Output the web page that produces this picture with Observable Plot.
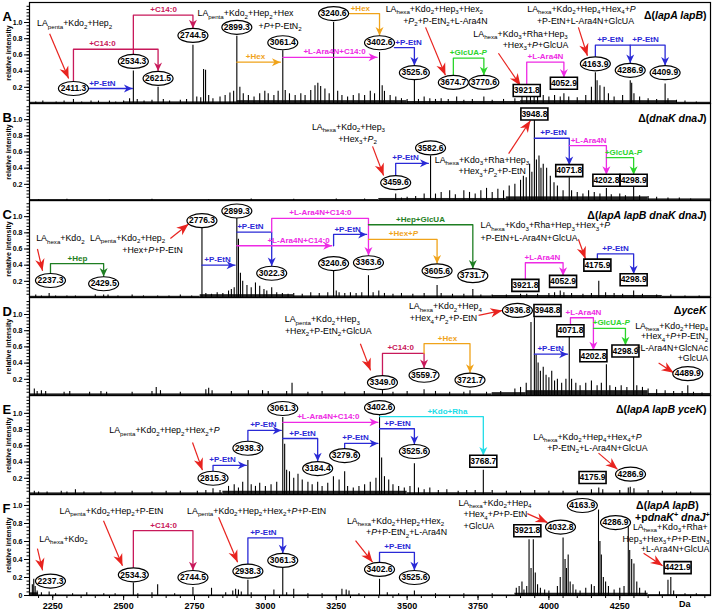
<!DOCTYPE html>
<html><head><meta charset="utf-8">
<script src="https://cdn.jsdelivr.net/npm/d3@7"></script>
<script src="https://cdn.jsdelivr.net/npm/@observablehq/plot@0.6"></script>
<style>
body{margin:0;background:#fff;font-family:"Liberation Sans",Arial,sans-serif;}
#chart{width:713px;}
#chart svg{display:block;overflow:visible;}
</style></head><body><div id="chart"></div>
<script>
// ---------- scales / ticks ----------
const massDomain = [2168, 4570];
const massTicks = [2250, 2500, 2750, 3000, 3250, 3500, 3750, 4000, 4250];
const intensityTicks = [0.2, 0.4, 0.6, 0.8, 1.0];
const intensityTicksF = [0, 0.2, 0.4, 0.6, 0.8, 1.0];
const panelLetters = ["A", "B", "C", "D", "E", "F"];

// ---------- spectra: [m/z, relative intensity] ----------
const peaksA = [[2190,0.02],[2215,0.03],[2262,0.02],[2290,0.03],[2323,0.05],[2352,0.02],[2385,0.03],[2411.3,0.03],[2450,0.03],[2472,0.02],[2500,0.03],[2521,0.06],[2534.3,0.40],[2548,0.05],[2572,0.03],[2600,0.04],[2621.5,0.20],[2640,0.05],[2662,0.03],[2700,0.04],[2722,0.05],[2744.5,0.72],[2758,0.08],[2772,0.07],[2782,0.42],[2789,0.41],[2800,0.10],[2815,0.06],[2840,0.08],[2858,0.10],[2875,0.13],[2888,0.15],[2899.3,0.83],[2910,0.20],[2922,0.12],[2940,0.10],[2960,0.08],[2980,0.12],[2998,0.15],[3010,0.12],[3030,0.10],[3045,0.15],[3061.4,0.65],[3070,0.16],[3085,0.12],[3105,0.10],[3125,0.12],[3140,0.10],[3160,0.16],[3175,0.22],[3185,0.25],[3195,0.21],[3210,0.18],[3225,0.12],[3240.6,1.0],[3255,0.15],[3270,0.10],[3290,0.08],[3310,0.10],[3330,0.12],[3350,0.10],[3370,0.15],[3385,0.12],[3402.6,0.63],[3412,0.22],[3420,0.15],[3440,0.10],[3460,0.08],[3480,0.06],[3500,0.05],[3525.6,0.30],[3540,0.05],[3560,0.08],[3580,0.06],[3600,0.05],[3620,0.06],[3645,0.05],[3674.7,0.08],[3700,0.04],[3730,0.05],[3770.6,0.08],[3800,0.04],[3840,0.05],[3880,0.06],[3905,0.10],[3921.8,0.14],[3935,0.18],[3948,0.20],[3960,0.12],[3980,0.10],[4000,0.08],[4020,0.10],[4040,0.08],[4052.9,0.12],[4070,0.08],[4100,0.07],[4130,0.10],[4150,0.20],[4163.9,0.38],[4170,0.28],[4180,0.22],[4195,0.20],[4210,0.12],[4230,0.08],[4260,0.10],[4286.9,0.28],[4292,0.25],[4300,0.12],[4320,0.08],[4350,0.06],[4380,0.05],[4409.9,0.24],[4420,0.06],[4450,0.04],[4480,0.03],[4520,0.02]];
const peaksB = [[2200,0.01],[2300,0.015],[2450,0.01],[2600,0.015],[2800,0.01],[2950,0.02],[3100,0.015],[3250,0.02],[3350,0.02],[3459.6,0.08],[3480,0.03],[3500,0.04],[3530,0.05],[3560,0.08],[3582.6,0.55],[3600,0.08],[3620,0.10],[3650,0.12],[3670,0.07],[3700,0.12],[3720,0.10],[3740,0.08],[3760,0.12],[3780,0.15],[3800,0.10],[3820,0.14],[3840,0.12],[3860,0.18],[3880,0.20],[3900,0.25],[3910,0.30],[3920,0.28],[3932,0.45],[3940,0.35],[3948.8,1.0],[3956,0.50],[3965,0.55],[3972,0.40],[3980,0.45],[3992,0.40],[4005,0.30],[4018,0.22],[4030,0.18],[4050,0.12],[4071.8,0.28],[4080,0.12],[4100,0.10],[4120,0.08],[4140,0.12],[4160,0.10],[4180,0.08],[4202.8,0.15],[4220,0.07],[4250,0.08],[4270,0.06],[4298.9,0.16],[4320,0.06],[4350,0.05],[4380,0.04],[4420,0.03],[4460,0.03],[4500,0.02]];
const peaksC = [[2190,0.03],[2210,0.02],[2237.3,0.05],[2260,0.02],[2300,0.02],[2330,0.02],[2400,0.03],[2429.5,0.03],[2445,0.03],[2480,0.02],[2530,0.03],[2570,0.02],[2620,0.02],[2660,0.02],[2700,0.03],[2740,0.02],[2776.3,0.89],[2790,0.05],[2810,0.04],[2830,0.06],[2850,0.05],[2870,0.08],[2880,0.10],[2890,0.12],[2899.3,1.0],[2905,0.72],[2912,0.30],[2920,0.20],[2935,0.15],[2950,0.12],[2965,0.18],[2980,0.14],[2995,0.10],[3005,0.08],[3022.3,0.12],[3040,0.06],[3060,0.05],[3080,0.04],[3100,0.05],[3130,0.04],[3160,0.06],[3190,0.05],[3220,0.06],[3240.6,0.33],[3250,0.08],[3260,0.06],[3280,0.05],[3300,0.06],[3320,0.05],[3340,0.06],[3363.6,0.27],[3380,0.06],[3400,0.08],[3420,0.05],[3450,0.04],[3480,0.05],[3520,0.04],[3560,0.05],[3605.6,0.15],[3620,0.05],[3660,0.04],[3700,0.04],[3731.7,0.10],[3760,0.03],[3800,0.03],[3850,0.03],[3900,0.04],[3921.8,0.04],[3960,0.04],[4000,0.05],[4020,0.06],[4040,0.08],[4052.9,0.06],[4080,0.05],[4120,0.04],[4150,0.05],[4175.9,0.20],[4200,0.06],[4230,0.05],[4260,0.04],[4298.9,0.08],[4330,0.04],[4380,0.03],[4430,0.03],[4480,0.02],[4530,0.02]];
const peaksD = [[2185,0.08],[2195,0.05],[2210,0.06],[2225,0.05],[2290,0.04],[2310,0.05],[2380,0.04],[2420,0.05],[2440,0.04],[2530,0.04],[2600,0.05],[2615,0.10],[2630,0.06],[2700,0.04],[2790,0.07],[2800,0.09],[2812,0.06],[2880,0.05],[2940,0.06],[2990,0.06],[3010,0.05],[3075,0.05],[3094,0.15],[3150,0.04],[3200,0.05],[3280,0.04],[3349,0.05],[3413,0.06],[3450,0.04],[3500,0.05],[3559.7,0.07],[3600,0.05],[3650,0.04],[3700,0.04],[3721.7,0.06],[3780,0.04],[3830,0.05],[3880,0.08],[3900,0.10],[3920,0.15],[3936.8,0.90],[3948.8,0.96],[3955,0.50],[3962,0.40],[3970,0.30],[3980,0.35],[3990,0.25],[4000,0.22],[4010,0.30],[4020,0.18],[4030,0.20],[4045,0.15],[4060,0.20],[4071.8,0.72],[4080,0.20],[4095,0.15],[4110,0.12],[4130,0.15],[4150,0.18],[4170,0.12],[4185,0.15],[4202.8,0.38],[4215,0.12],[4235,0.10],[4255,0.12],[4275,0.10],[4298.9,0.47],[4310,0.12],[4330,0.10],[4350,0.08],[4380,0.07],[4410,0.06],[4440,0.05],[4470,0.05],[4489.9,0.12],[4510,0.04],[4540,0.03]];
const peaksE = [[2185,0.04],[2200,0.03],[2230,0.03],[2280,0.04],[2300,0.03],[2330,0.06],[2360,0.03],[2420,0.03],[2470,0.03],[2530,0.04],[2600,0.03],[2650,0.04],[2700,0.04],[2760,0.04],[2790,0.05],[2815.3,0.07],[2840,0.05],[2870,0.10],[2890,0.12],[2905,0.08],[2920,0.15],[2938.3,0.42],[2950,0.12],[2965,0.10],[2980,0.14],[3000,0.10],[3020,0.12],[3040,0.15],[3061.3,0.95],[3068,0.62],[3075,0.30],[3085,0.28],[3100,0.20],[3115,0.25],[3130,0.18],[3150,0.15],[3165,0.12],[3184.4,0.15],[3200,0.10],[3220,0.14],[3240,0.22],[3260,0.18],[3279.6,0.28],[3290,0.10],[3310,0.08],[3330,0.10],[3350,0.12],[3370,0.15],[3390,0.20],[3402.6,0.97],[3410,0.45],[3420,0.22],[3435,0.18],[3450,0.12],[3470,0.10],[3490,0.08],[3510,0.10],[3525.6,0.38],[3540,0.08],[3560,0.06],[3580,0.08],[3610,0.05],[3640,0.06],[3680,0.04],[3710,0.05],[3740,0.05],[3768.7,0.30],[3800,0.05],[3850,0.04],[3900,0.04],[3950,0.05],[4000,0.04],[4050,0.04],[4100,0.04],[4150,0.06],[4175.9,0.08],[4190,0.06],[4250,0.05],[4280,0.08],[4286.9,0.09],[4300,0.07],[4350,0.05],[4400,0.04],[4450,0.03],[4500,0.03]];
const peaksF = [[2178,0.12],[2183,0.18],[2188,0.10],[2195,0.05],[2210,0.03],[2237.3,0.04],[2260,0.02],[2320,0.02],[2370,0.03],[2430,0.02],[2470,0.02],[2534.3,0.14],[2550,0.02],[2600,0.03],[2620,0.12],[2680,0.02],[2744.5,0.09],[2810,0.08],[2860,0.03],[2885,0.05],[2895,0.07],[2905,0.06],[2915,0.04],[2938.3,0.17],[2950,0.03],[3030,0.06],[3061.3,0.30],[3075,0.03],[3100,0.07],[3150,0.02],[3200,0.02],[3270,0.07],[3285,0.06],[3295,0.05],[3330,0.02],[3402.6,0.18],[3430,0.03],[3470,0.02],[3525.6,0.05],[3600,0.02],[3700,0.02],[3800,0.02],[3885,0.08],[3895,0.10],[3905,0.15],[3912,0.06],[3921.8,0.10],[3930,0.62],[3937,0.30],[3945,0.62],[3952,0.25],[3960,0.12],[3970,0.08],[3985,0.06],[4000,0.05],[4030,0.10],[4040,0.20],[4050,0.64],[4057,0.40],[4062,0.30],[4068,0.45],[4075,0.15],[4085,0.12],[4095,0.06],[4110,0.05],[4130,0.08],[4150,0.12],[4160,0.10],[4175,0.95],[4180,0.60],[4185,0.45],[4192,0.20],[4200,0.15],[4210,0.10],[4230,0.06],[4250,0.08],[4265,0.10],[4280,0.77],[4285,0.50],[4292,0.40],[4300,0.35],[4310,0.15],[4320,0.08],[4340,0.05],[4390,0.04],[4420,0.17],[4430,0.20],[4440,0.05],[4480,0.02],[4520,0.02]];

// baseline noise bands: [from, to, level]
const noiseA = [[2168,2500,0.015],[2500,2900,0.02],[2900,3500,0.035],[3500,3900,0.025],[3900,4450,0.035],[4450,4570,0.015]];
const noiseB = [[2168,3400,0.012],[3400,3850,0.025],[3850,4350,0.045],[4350,4570,0.02]];
const noiseC = [[2168,2770,0.015],[2770,3100,0.035],[3100,3800,0.02],[3800,4400,0.025],[4400,4570,0.015]];
const noiseD = [[2168,3800,0.02],[3800,3920,0.035],[3920,4350,0.06],[4350,4570,0.025]];
const noiseE = [[2168,2850,0.02],[2850,3500,0.04],[3500,3800,0.022],[3800,4570,0.018]];
const noiseF = [[2168,2200,0.03],[2200,3880,0.006],[3880,4350,0.025],[4350,4570,0.01]];

// ---------- labelled peaks: [text, m/z position, intensity position, e=ellipse|b=box] ----------
const labelsA = [["2411.3",2323,0.185,"e"],["2534.3",2534.3,0.52,"e"],["2621.5",2621.5,0.31,"e"],["2744.5",2744.5,0.84,"e"],["2899.3",2899.3,0.94,"e"],["3061.4",3061.4,0.75,"e"],["3240.6",3240.6,1.11,"e"],["3402.6",3402.6,0.75,"e"],["3525.6",3525.6,0.38,"e"],["3674.7",3663,0.26,"e"],["3770.6",3770.6,0.26,"e"],["3921.8",3921.8,0.16,"b"],["4052.9",4052.9,0.25,"b"],["4163.9",4163.9,0.49,"e"],["4286.9",4286.9,0.41,"e"],["4409.9",4409.9,0.38,"e"]];
const labelsB = [["3459.6",3459.6,0.22,"e"],["3582.6",3582.6,0.65,"e"],["3948.8",3948.8,1.07,"b"],["4071.8",4071.8,0.37,"b"],["4202.8",4202.8,0.25,"b"],["4298.9",4298.9,0.25,"b"]];
const labelsC = [["2237.3",2242,0.21,"e"],["2429.5",2429.5,0.17,"e"],["2776.3",2776.3,0.95,"e"],["2899.3",2899.3,1.07,"e"],["3022.3",3022.3,0.30,"e"],["3240.6",3240.6,0.42,"e"],["3363.6",3363.6,0.43,"e"],["3605.6",3605.6,0.33,"e"],["3731.7",3731.7,0.27,"e"],["3921.8",3917,0.15,"b"],["4052.9",4050,0.20,"b"],["4175.9",4171,0.40,"b"],["4298.9",4298.9,0.22,"b"]];
const labelsD = [["3349.0",3413,0.16,"e"],["3559.7",3559.7,0.25,"e"],["3721.7",3721.7,0.19,"e"],["3936.8",3889,1.05,"e"],["3948.8",3995,1.05,"b"],["4071.8",4076,0.80,"b"],["4202.8",4157,0.49,"b"],["4298.9",4270,0.55,"b"],["4489.9",4489.9,0.27,"e"]];
const labelsE = [["2815.3",2815.3,0.20,"e"],["2938.3",2938.3,0.57,"e"],["3061.3",3061.3,1.06,"e"],["3184.4",3184.4,0.32,"e"],["3279.6",3279.6,0.48,"e"],["3402.6",3402.6,1.07,"e"],["3525.6",3525.6,0.53,"e"],["3768.7",3768.7,0.41,"b"],["4175.9",4154,0.21,"b"],["4286.9",4288,0.25,"e"]];
const labelsF = [["2237.3",2242,0.16,"e"],["2534.3",2534.3,0.23,"e"],["2744.5",2744.5,0.20,"e"],["2938.3",2938.3,0.27,"e"],["3061.3",3061.3,0.39,"e"],["3402.6",3402.6,0.29,"e"],["3525.6",3525.6,0.20,"e"],["3921.8",3924,0.72,"b"],["4032.8",4041,0.76,"e"],["4163.9",4118,1.0,"e"],["4286.9",4235,0.81,"e"],["4421.9",4454,0.31,"b"]];

// ---------- mass-difference brackets ----------
const bracketsA = [
 {t:"+C14:0", lx:2425, pts:[[2323,0.27],[2323,0.67],[2621.5,0.67],[2621.5,0.40]], head:"down"},
 {t:"+C14:0", lx:2641, pts:[[2534.3,0.61],[2534.3,1.09],[2744.5,1.09],[2744.5,0.93]], head:"down"},
 {t:"+P-EtN", lx:2425, pts:[[2376,0.185],[2531,0.185]], head:"right"},
 {t:"+Hex", lx:2965, pts:[[2899.3,0.51],[3053,0.51]], head:"right"},
 {t:"+L-Ara4N+C14:0", lx:3244, pts:[[3061.4,0.57],[3394,0.57]], head:"right"},
 {t:"+Hex", lx:3335, pts:[[3293,1.11],[3402.6,1.11],[3402.6,0.84]], head:"down"},
 {t:"+P-EtN", lx:3505, pts:[[3455,0.69],[3525.6,0.69],[3525.6,0.47]], head:"down"},
 {t:"+GlcUA-*P*", lx:3716, pts:[[3663,0.35],[3663,0.56],[3770.6,0.56],[3770.6,0.35]], head:"down"},
 {t:"+L-Ara4N", lx:3988, pts:[[3921.8,0.23],[3921.8,0.51],[4052.9,0.51],[4052.9,0.32]], head:"down"},
 {t:"+P-EtN", lx:4217, pts:[[4163.9,0.58],[4163.9,0.72],[4286.9,0.72],[4286.9,0.50]], head:"down"},
 {t:"+P-EtN", lx:4341, pts:[[4286.9,0.72],[4409.9,0.72],[4409.9,0.47]], head:"down"}
];
const bracketsB = [
 {t:"+P-EtN", lx:3494, pts:[[3459.6,0.31],[3459.6,0.46],[3575,0.46]], head:"right"},
 {t:"+P-EtN", lx:4016, pts:[[3948.8,0.77],[4071.8,0.77],[4071.8,0.44]], head:"down"},
 {t:"+L-Ara4N", lx:4140, pts:[[4071.8,0.68],[4202.8,0.68],[4202.8,0.32]], head:"down"},
 {t:"+GlcUA-*P*", lx:4263, pts:[[4202.8,0.53],[4298.9,0.53],[4298.9,0.32]], head:"down"}
];
const bracketsC = [
 {t:"+Hep", lx:2337, pts:[[2242,0.30],[2242,0.42],[2429.5,0.42],[2429.5,0.26]], head:"down"},
 {t:"+P-EtN", lx:2831, pts:[[2776.3,0.40],[2893,0.40]], head:"right"},
 {t:"+P-EtN", lx:2947, pts:[[2899.3,0.81],[3022.3,0.81],[3022.3,0.39]], head:"down"},
 {t:"+L-Ara4N+C14:0", lx:3117, pts:[[2899.3,0.64],[3234,0.64]], head:"right"},
 {t:"+L-Ara4N+C14:0", lx:3194, pts:[[3022.3,0.81],[3022.3,0.98],[3363.6,0.98],[3363.6,0.52]], head:"down"},
 {t:"+P-EtN", lx:3290, pts:[[3240.6,0.64],[3240.6,0.78],[3357,0.78]], head:"right"},
 {t:"+Hex+*P*", lx:3487, pts:[[3363.6,0.72],[3605.6,0.72],[3605.6,0.42]], head:"down"},
 {t:"+Hep+GlcUA", lx:3547, pts:[[3363.6,0.90],[3731.7,0.90],[3731.7,0.36]], head:"down"},
 {t:"+L-Ara4N", lx:3977, pts:[[3917,0.22],[3917,0.43],[4050,0.43],[4050,0.27]], head:"down"},
 {t:"+P-EtN", lx:4235, pts:[[4171,0.47],[4171,0.54],[4298.9,0.54],[4298.9,0.29]], head:"down"}
];
const bracketsD = [
 {t:"+C14:0", lx:3477, pts:[[3413,0.25],[3413,0.52],[3559.7,0.52],[3559.7,0.34]], head:"down"},
 {t:"+Hex", lx:3642, pts:[[3559.7,0.52],[3559.7,0.64],[3721.7,0.64],[3721.7,0.28]], head:"down"},
 {t:"+P-EtN", lx:4006, pts:[[3948.8,0.51],[4066,0.51]], head:"right"},
 {t:"+L-Ara4N", lx:4122, pts:[[4076,0.87],[4076,0.96],[4157,0.96],[4157,0.56]], head:"down"},
 {t:"+GlcUA-*P*", lx:4220, pts:[[4157,0.83],[4270,0.83],[4270,0.62]], head:"down"}
];
const bracketsE = [
 {t:"+P-EtN", lx:2849, pts:[[2815.3,0.29],[2815.3,0.36],[2933,0.36]], head:"right"},
 {t:"+P-EtN", lx:2993, pts:[[2938.3,0.66],[2938.3,0.79],[3056,0.79]], head:"right"},
 {t:"+L-Ara4N+C14:0", lx:3222, pts:[[3061.3,0.89],[3397,0.89]], head:"right"},
 {t:"+P-EtN", lx:3131, pts:[[3061.3,0.69],[3184.4,0.69],[3184.4,0.41]], head:"down"},
 {t:"+P-EtN", lx:3318, pts:[[3279.6,0.57],[3279.6,0.63],[3397,0.63]], head:"right"},
 {t:"+P-EtN", lx:3466, pts:[[3402.6,0.81],[3525.6,0.81],[3525.6,0.62]], head:"down"},
 {t:"+Kdo+Rha", lx:3642, pts:[[3402.6,0.96],[3768.7,0.96],[3768.7,0.48]], head:"down"}
];
const bracketsF = [
 {t:"+C14:0", lx:2641, pts:[[2534.3,0.31],[2534.3,0.72],[2744.5,0.72],[2744.5,0.28]], head:"down"},
 {t:"+P-EtN", lx:2993, pts:[[2938.3,0.35],[2938.3,0.64],[3061.3,0.64],[3061.3,0.47]], head:"down"},
 {t:"+P-EtN", lx:3466, pts:[[3402.6,0.37],[3402.6,0.48],[3525.6,0.48],[3525.6,0.28]], head:"down"}
];

// ---------- red pointer arrows: [m1, i1, m2, i2] ----------
const arrowsA = [[2239,0.86,2306,0.31],[3565,0.94,3635,0.35],[3822,0.62,3900,0.22],[4104,0.94,4136,0.59]];
const arrowsB = [[3378,0.67,3417,0.31],[3858,0.58,3935,0.99]];
const arrowsC = [[2196,0.60,2214,0.33],[2665,0.73,2729,0.91],[4104,0.72,4129,0.48]];
const arrowsD = [[3335,0.64,3371,0.31],[3752,0.99,3836,1.05],[4387,0.40,4440,0.28]];
const arrowsE = [[2743,0.64,2778,0.30],[4175,0.51,4242,0.31]];
const arrowsF = [[2196,0.52,2214,0.28],[2429,0.83,2496,0.33],[2835,0.87,2902,0.37],[3318,0.61,3378,0.37],[3924,0.91,3995,0.81],[4334,0.47,4401,0.33]];

// ---------- structure annotations: [text, m/z, intensity, anchor] ----------
const notesA = [["LA_{penta}+Kdo_{2}+Hep_{2}",2327,0.99,"middle"],["LA_{penta}+Kdo_{2}+Hep_{2}+Hex",2930,1.11,"middle"],["+*P*+P-EtN_{2}",2976,0.96,"start"],["LA_{hexa}+Kdo_{2}+Hep_{3}+Hex_{2}",3596,1.17,"middle"],["+*P*_{2}+P-EtN_{2}+L-Ara4N",3635,1.02,"middle"],["LA_{hexa}+Kdo_{3}+Rha+Hep_{3}",3900,0.86,"middle"],["+Hex_{3}+*P*+GlcUA",3953,0.72,"middle"],["LA_{hexa}+Kdo_{2}+Hep_{4}+Hex_{4}+*P*",4115,1.17,"middle"],["+P-EtN+L-Ara4N+GlcUA",4129,1.02,"middle"]];
const notesB = [["LA_{hexa}+Kdo_{2}+Hep_{3}",3293,0.91,"middle"],["+Hex_{3}+*P*_{2}",3325,0.76,"middle"],["LA_{hexa}+Kdo_{3}+Rha+Hep_{3}",3764,0.50,"middle"],["+Hex_{3}+*P*_{2}+P-EtN",3800,0.36,"middle"]];
const notesC = [["LA_{hexa}+Kdo_{2}",2277,0.73,"middle"],["LA_{penta}+Kdo_{2}+Hep_{2}",2514,0.74,"middle"],["+Hex+*P*+P-EtN",2602,0.59,"middle"],["LA_{hexa}+Kdo_{3}+Rha+Hep_{3}+Hex_{3}+*P*",3759,0.89,"start"],["+P-EtN+L-Ara4N+GlcUA",3759,0.74,"start"]];
const notesD = [["LA_{penta}+Kdo_{2}+Hep_{3}",3201,0.94,"middle"],["+Hex_{2}+P-EtN_{2}+GlcUA",3222,0.80,"middle"],["LA_{hexa}+Kdo_{2}+Hep_{4}",3635,1.10,"middle"],["+Hex_{4}+*P*_{2}+P-EtN",3628,0.95,"middle"],["LA_{hexa}+Kdo_{2}+Hep_{4}",4562,0.86,"end"],["+Hex_{4}+*P*+P-EtN_{2}",4562,0.73,"end"],["+L-Ara4N+GlcNAc",4562,0.59,"end"],["+GlcUA",4562,0.46,"end"]];
const notesE = [["LA_{penta}+Kdo_{2}+Hep_{2}+Hex_{2}+*P*",2644,0.79,"middle"],["LA_{hexa}+Kdo_{2}+Hep_{4}+Hex_{4}+*P*",4136,0.71,"middle"],["+P-EtN_{2}+L-Ara4N+GlcUA",4171,0.57,"middle"]];
const notesF = [["LA_{hexa}+Kdo_{2}",2288,0.63,"middle"],["LA_{penta}+Kdo_{2}+Hep_{2}+P-EtN",2457,0.94,"middle"],["LA_{penta}+Kdo_{2}+Hep_{2}+Hex_{2}+*P*+P-EtN",2969,0.94,"middle"],["LA_{hexa}+Kdo_{2}+Hep_{2}+Hex_{2}",3459,0.83,"middle"],["+*P*+P-EtN_{2}+L-Ara4N",3498,0.70,"middle"],["LA_{hexa}+Kdo_{2}+Hep_{4}",3681,1.03,"start"],["+Hex_{4}+*P*+P-EtN",3699,0.90,"start"],["+GlcUA",3699,0.77,"start"],["LA_{hexa}+Kdo_{3}+Rha+",4560,0.76,"end"],["Hep_{3}+Hex_{3}+*P*+P-EtN_{3}",4566,0.63,"end"],["+L-Ara4N+GlcUA",4566,0.51,"end"]];

// ---------- strain names ----------
const strainsA = [["Δ(*lapA lapB*)",4556,1.09,"end"]];
const strainsB = [["Δ(*dnaK dnaJ*)",4556,1.01,"end"]];
const strainsC = [["Δ(*lapA lapB dnaK dnaJ*)",4556,1.01,"end"]];
const strainsD = [["Δ*yceK*",4556,1.05,"end"]];
const strainsE = [["Δ(*lapA lapB yceK*)",4556,1.04,"end"]];
const strainsF = [["Δ(*lapA lapB*)",4418,1.0,"middle"],["+p*dnaK*^{+} *dnaJ*^{+}",4436,0.87,"middle"]];

// ---------- styles ----------
const RED = "#e8231f";
const modColor = {"+P-EtN":"#2a2ad6","+C14:0":"#c8195a","+Hex":"#f0a31a","+Hex+*P*":"#f0a31a","+L-Ara4N+C14:0":"#ee2ae4","+L-Ara4N":"#ee2ae4","+GlcUA-*P*":"#2bd52b","+Hep":"#1e7e22","+Hep+GlcUA":"#1e7e22","+Kdo+Rha":"#22dde8"};
const FONT = "'Liberation Sans', Arial, Helvetica, sans-serif";

function headSym(angle, L, W) {
  const c = Math.cos(angle), s = Math.sin(angle);
  const pts = [[0,0],[-L,-W/2],[-0.7*L,0],[-L,W/2]].map(([x,y]) => [x*c - y*s, x*s + y*c]);
  return {draw(ctx) { ctx.moveTo(pts[0][0], pts[0][1]); for (let i = 1; i < pts.length; i++) ctx.lineTo(pts[i][0], pts[i][1]); ctx.closePath(); }};
}
const downHead = headSym(Math.PI/2, 8.5, 8);
const rightHead = headSym(0, 8.5, 8);
const ellipseSym = {draw(ctx) { const rx = 15, ry = 7, k = 0.5523;
  ctx.moveTo(rx,0); ctx.bezierCurveTo(rx,ry*k,rx*k,ry,0,ry); ctx.bezierCurveTo(-rx*k,ry,-rx,ry*k,-rx,0);
  ctx.bezierCurveTo(-rx,-ry*k,-rx*k,-ry,0,-ry); ctx.bezierCurveTo(rx*k,-ry,rx,-ry*k,rx,0); ctx.closePath(); }};
const boxSym = {draw(ctx) { ctx.rect(-13.5,-6,27,12); }};

function horizY(b) { for (let i = 1; i < b.pts.length; i++) if (b.pts[i][1] === b.pts[i-1][1]) return b.pts[i][1]; return b.pts[0][1]; }

const panels = [
 {peaks:peaksA, noise:noiseA, labels:labelsA, brackets:bracketsA, arrows:arrowsA, notes:notesA, strains:strainsA, h:103, mt:2, mb:0, ymax:1.247, ticks:intensityTicks},
 {peaks:peaksB, noise:noiseB, labels:labelsB, brackets:bracketsB, arrows:arrowsB, notes:notesB, strains:strainsB, h:97, mt:0, mb:0, ymax:1.2, ticks:intensityTicks},
 {peaks:peaksC, noise:noiseC, labels:labelsC, brackets:bracketsC, arrows:arrowsC, notes:notesC, strains:strainsC, h:97, mt:0, mb:0, ymax:1.2, ticks:intensityTicks},
 {peaks:peaksD, noise:noiseD, labels:labelsD, brackets:bracketsD, arrows:arrowsD, notes:notesD, strains:strainsD, h:98, mt:0, mb:0, ymax:1.21, ticks:intensityTicks},
 {peaks:peaksE, noise:noiseE, labels:labelsE, brackets:bracketsE, arrows:arrowsE, notes:notesE, strains:strainsE, h:99, mt:0, mb:0, ymax:1.22, ticks:intensityTicks},
 {peaks:peaksF, noise:noiseF, labels:labelsF, brackets:bracketsF, arrows:arrowsF, notes:notesF, strains:strainsF, h:118, mt:0, mb:17, ymax:1.122, ticks:intensityTicksF, xAxis:true}
];

function richify(root) {
  const NS = "http://www.w3.org/2000/svg";
  const els = Array.from(root.querySelectorAll("text, tspan")).filter(el => el.childElementCount === 0 && /[_^*]/.test(el.textContent));
  for (const el of els) {
    const s = el.textContent;
    el.textContent = "";
    let italic = false, shift = 0;
    const add = (txt, mode) => {
      if (!txt) return;
      const t = document.createElementNS(NS, "tspan");
      const target = mode === "sub" ? 2.4 : mode === "sup" ? -3.4 : 0;
      if (target !== shift) { t.setAttribute("dy", target - shift); shift = target; }
      if (mode) t.setAttribute("font-size", "70%");
      if (italic) t.setAttribute("font-style", "italic");
      t.textContent = txt;
      el.appendChild(t);
    };
    let buf = "", i = 0;
    while (i < s.length) {
      const ch = s[i];
      if (ch === "*") { add(buf); buf = ""; italic = !italic; i++; }
      else if ((ch === "_" || ch === "^") && s[i+1] === "{") {
        add(buf); buf = "";
        const j = s.indexOf("}", i);
        s.slice(i+2, j).split("*").forEach((part, k) => { if (k > 0) italic = !italic; add(part, ch === "_" ? "sub" : "sup"); });
        i = j + 1;
      } else { buf += ch; i++; }
    }
    add(buf);
  }
}

function makePanel(p, letter) {
  const W = 713, ML = 29, MR = 3;
  const kx = (W - ML - MR) / (massDomain[1] - massDomain[0]);
  const ky = (p.h - p.mt - p.mb) / p.ymax;
  const marks = [];
  marks.push(Plot.rectY(p.noise, {x1: d => d[0], x2: d => d[1], y: d => d[2], fill: "#222"}));
  marks.push(Plot.ruleX(p.peaks, {x: d => d[0], y1: 0, y2: d => d[1], stroke: "#000", strokeWidth: 1.1}));
  const segs = p.brackets.flatMap((b, i) => b.pts.map(q => ({x: q[0], y: q[1], id: i, c: modColor[b.t]})));
  marks.push(Plot.line(segs, {x: "x", y: "y", z: "id", stroke: "c", strokeWidth: 1.3}));
  const tips = p.brackets.map(b => ({x: b.pts[b.pts.length-1][0], y: b.pts[b.pts.length-1][1], c: modColor[b.t], head: b.head}));
  marks.push(Plot.dot(tips.filter(t => t.head === "down"), {x: "x", y: "y", fill: "c", symbol: downHead, r: 4}));
  marks.push(Plot.dot(tips.filter(t => t.head === "right"), {x: "x", y: "y", fill: "c", symbol: rightHead, r: 4}));
  marks.push(Plot.text(p.brackets.map(b => ({x: b.lx, y: horizY(b), t: b.t, c: modColor[b.t]})),
    {x: "x", y: "y", text: "t", fill: "c", dy: -5.5, fontSize: 8, fontWeight: "bold"}));
  marks.push(Plot.link(p.arrows, {x1: d => d[0], y1: d => d[1], x2: d => d[2], y2: d => d[3], stroke: RED, strokeWidth: 1.2}));
  for (const a of p.arrows) {
    const ang = Math.atan2(-(a[3] - a[1]) * ky, (a[2] - a[0]) * kx);
    marks.push(Plot.dot([a], {x: d => d[2], y: d => d[3], fill: RED, symbol: headSym(ang, 12, 9.5), r: 5}));
  }
  marks.push(Plot.dot(p.labels.filter(d => d[3] === "e"), {x: d => d[1], y: d => d[2], symbol: ellipseSym, r: 5, fill: "white", stroke: "black", strokeWidth: 1.2}));
  marks.push(Plot.dot(p.labels.filter(d => d[3] === "b"), {x: d => d[1], y: d => d[2], symbol: boxSym, r: 5, fill: "white", stroke: "black", strokeWidth: 1.6}));
  marks.push(Plot.text(p.labels, {x: d => d[1], y: d => d[2], text: d => d[0], fontSize: 8.5, fontWeight: "bold"}));
  for (const anchor of ["start", "middle", "end"]) {
    marks.push(Plot.text(p.notes.filter(d => d[3] === anchor), {x: d => d[1], y: d => d[2], text: d => d[0], textAnchor: anchor, fontSize: 8.8}));
    marks.push(Plot.text(p.strains.filter(d => d[3] === anchor), {x: d => d[1], y: d => d[2], text: d => d[0], textAnchor: anchor, fontSize: 10.5, fontWeight: "bold"}));
  }
  marks.push(Plot.text([letter], {frameAnchor: "top-left", text: d => d, dx: -27, dy: 9, fontSize: 13, fontWeight: "bold", textAnchor: "start"}));
  marks.push(Plot.frame({stroke: "black", strokeWidth: 1.2}));
  marks.push(Plot.axisY({ticks: p.ticks, tickSize: 5, tickPadding: 2, fontSize: 7, fontWeight: "bold",
    tickFormat: d => d === 0 ? "0" : d.toFixed(1), label: "relative intensity", labelAnchor: "center", labelOffset: 23, labelArrow: "none"}));
  marks.push(Plot.axisY({ticks: d3.range(0.04, p.ymax - 0.01, 0.04), tickSize: 2.5, tickFormat: () => "", label: null}));
  if (p.xAxis) {
    marks.push(Plot.axisX({ticks: massTicks, tickSize: 5, tickPadding: 2, fontSize: 9, fontWeight: "bold", tickFormat: d => String(d), label: null}));
    marks.push(Plot.axisX({ticks: d3.range(2200, 4551, 50), tickSize: 3, tickFormat: () => "", label: null}));
    marks.push(Plot.text(["Da"], {frameAnchor: "bottom-right", text: d => d, dx: -20, dy: 11, fontSize: 9, fontWeight: "bold"}));
  }
  const svg = Plot.plot({
    width: W, height: p.h, marginLeft: ML, marginRight: MR, marginTop: p.mt, marginBottom: p.mb,
    x: p.xAxis ? {domain: massDomain} : {domain: massDomain, axis: null},
    y: {domain: [0, p.ymax]},
    style: {fontFamily: FONT, background: "transparent", overflow: "visible", color: "black"},
    marks
  });
  richify(svg);
  return svg;
}

const chart = document.getElementById("chart");
panels.forEach((p, i) => chart.appendChild(makePanel(p, panelLetters[i])));
</script></body></html>
